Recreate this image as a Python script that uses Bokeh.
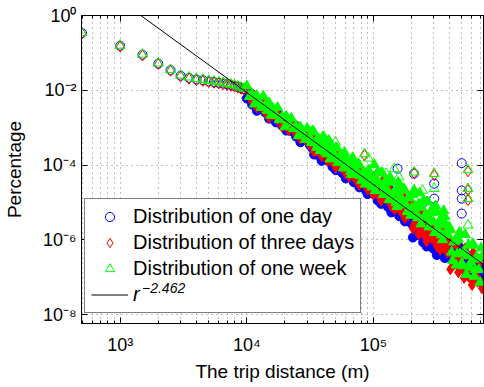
import numpy as np
from bokeh.plotting import figure
from bokeh.models import (ColumnDataSource, CustomJSTickFormatter, FixedTicker,
                          Legend, LegendItem, LogAxis, Range1d)
from bokeh.embed import file_html
from bokeh.resources import INLINE

FONT = "Liberation Sans"

# ---------------------------------------------------------------------------
# Trip-length distributions, stored as log10 of the share of trips.
# Short trips: 500 m bins.
short_dist = [500, 1000, 1500, 2000, 2500, 3000, 3500, 4000, 4500, 5000,
              5500, 6000, 6500, 7000, 7500, 8000, 8500, 9000, 9500]
day_short = [-0.47, -0.81, -1.05, -1.29, -1.46, -1.61, -1.67, -1.71, -1.73, -1.76,
             -1.78, -1.80, -1.82, -1.84, -1.86, -1.88, -1.91, -1.94, -1.97]
three_short = [-0.48, -0.83, -1.07, -1.30, -1.48, -1.63, -1.69, -1.73, -1.75, -1.78,
               -1.80, -1.82, -1.84, -1.86, -1.88, -1.90, -1.93, -1.96, -1.99]
week_short = [-0.46, -0.80, -1.04, -1.275, -1.45, -1.60, -1.65, -1.69, -1.71, -1.74,
              -1.76, -1.78, -1.80, -1.82, -1.84, -1.86, -1.89, -1.92, -1.95]

# Longer trips (m)
long_dist = [10000, 10500, 11000, 11500, 12000, 12500, 13000, 13500, 14000, 14500,
             15000, 15500, 16000, 17000, 17500, 18000, 19000, 20000, 20500, 21500,
             22500, 23500, 24500, 25500, 26500, 27500, 29000, 30000, 31500, 32500,
             34000, 35500, 37000, 38500, 40000, 42000, 43500, 45500, 47500, 49500,
             51500, 53500, 56000, 58000, 60500, 63000, 66000, 68500, 71500, 74500,
             77500, 81000, 84500, 88000, 91500, 95500, 99500, 103500, 108000, 112500,
             117500, 122500, 127500, 133000, 138500, 144500, 150500, 157000, 163500, 170500,
             177500, 185000, 193000, 201000, 209500, 218500, 227500, 237000, 247000, 257500,
             268500, 280000, 291500, 304000, 316500, 330000, 344000, 358500, 373500, 389000,
             405500, 422500, 440500, 459000, 478500, 498500, 519500, 541500, 564500, 588000,
             613000, 638500, 665500, 693500, 722500]
day_long = [-2.22, -2.05, -2.38, -2.30, -2.55, -2.29, -2.48, -2.34, -2.60, -2.53,
            -2.76, -2.54, -2.68, -2.86, -2.58, -2.79, -2.95, -2.78, -3.08, -2.93,
            -3.09, -2.91, -3.24, -3.15, -3.39, -3.13, -3.34, -3.20, -3.47, -3.39,
            -3.72, -3.44, -3.62, -3.80, -3.44, -3.74, -3.88, -3.65, -4.05, -3.83,
            -4.02, -3.77, -4.18, -4.05, -4.36, -4.02, -4.26, -4.07, -4.39, -4.30,
            -4.60, -4.32, -4.50, -4.69, -4.33, -4.61, -4.77,
            -4.47, -4.95, -4.67, -4.90, -4.59, -5.06, -4.91, -5.27, -4.86, -5.13,
            -4.89, -5.28, -5.14, -5.51, -5.15, -5.37, -5.58,
            -5.26, -5.66, -5.88, -5.51, -6.07, -5.73, -5.99, -5.60, -6.18, -5.98,
            -6.41, -5.89, -6.21, -5.91, -6.37, -6.21,
            -6.50, -6.19, -6.39, -6.58, -6.20, -6.49, -6.67, -6.41, -6.82, -6.60,
            -6.79, -6.54, -6.95, -6.82, -7.14]
three_long = [-1.94, -2.17, -2.31, -2.14, -2.46, -2.31, -2.45, -2.28, -2.59, -2.50,
              -2.73, -2.48, -2.66, -2.55, -2.79, -2.71, -2.97, -2.77, -2.91, -3.07,
              -2.81, -3.03, -3.17, -2.99, -3.30, -3.15, -3.31, -3.14, -3.46, -3.36,
              -3.65, -3.35, -3.56, -3.38, -3.69, -3.62, -3.89, -3.63, -3.81, -3.98,
              -3.65, -3.91, -4.07, -3.85, -4.23, -4.02, -4.21, -3.98, -4.35, -4.25,
              -4.53, -4.23, -4.44, -4.27, -4.58, -4.49, -4.78,
              -4.43, -4.65, -4.85, -4.44, -4.75, -4.92, -4.65, -5.10, -4.85, -5.05,
              -4.78, -5.22, -5.07, -5.42, -5.03, -5.29, -5.06,
              -5.59, -5.43, -5.85, -5.42, -5.66, -5.91, -5.38, -5.76, -5.98, -5.61,
              -6.17, -5.84, -6.08, -5.72, -6.27, -6.09,
              -6.79, -6.10, -6.56, -6.11, -6.73, -6.44, -7.02, -6.41, -6.78, -7.07,
              -6.34, -6.88, -7.12, -6.59, -7.30]
week_long = [-1.88, -2.17, -2.10, -2.37, -2.14, -2.30, -2.46, -2.16, -2.40, -2.54,
             -2.33, -2.67, -2.48, -2.67, -2.46, -2.79, -2.71, -2.98, -2.69, -2.90,
             -2.75, -3.03, -2.96, -3.22, -2.98, -3.14, -3.32, -3.02, -3.27, -3.40,
             -3.12, -3.53, -3.31, -3.49, -3.24, -3.66, -3.53, -3.84, -3.51, -3.74,
             -3.54, -3.87, -3.77, -4.08, -3.79, -3.97, -4.17, -3.80, -4.08, -4.25,
             -4.00, -4.41, -4.19, -4.38, -4.13, -4.53, -4.42,
             -4.69, -4.18, -4.50, -4.21, -4.65, -4.46, -4.93, -4.46, -4.74, -5.00,
             -4.46, -4.84, -5.02, -4.68, -5.25, -4.88, -5.15,
             -4.67, -5.29, -5.04, -5.58, -4.96, -5.33, -4.98, -5.49, -5.27, -5.81,
             -5.26, -5.56, -5.87, -5.22, -5.60, -5.88,
             -5.73, -6.56, -6.03, -6.38, -5.80, -6.63, -6.31, -6.93, -6.13, -6.60,
             -6.11, -6.80, -6.52, -7.14, -6.45]

# In-between bins beyond 33 km, where the cloud widens
mid_dist = [33000, 35000, 36000, 38000, 39000, 41000, 43000, 44500, 46500, 48500,
            50500, 52500, 55000, 57000, 59000, 62000, 64500, 67000, 70000, 73000,
            76000, 79000, 83000, 86000, 90000, 93500, 97500, 101500, 105500, 110000,
            115000, 120000, 125000, 130000, 135500, 141500, 147500, 153500, 160000, 167000,
            174000, 181000, 189000, 197000, 205000, 214000, 223000, 232000, 242000, 252000,
            263000, 274000, 285500, 297500, 310000, 323000, 337000, 351000, 366000, 381000,
            397000, 414000, 431500, 450000, 468500, 488500, 509000, 530500, 553000, 576000,
            600500, 626000, 652000, 679500, 708000]
day_mid = [-3.56, -3.31, -3.72, -3.59, -3.89, -3.56, -3.79, -3.61, -3.93, -3.84,
           -4.14, -3.85, -4.04, -4.22, -3.86, -4.15, -4.30, -4.07, -4.46, -4.25,
           -4.44, -4.19, -4.60, -4.48, -4.78, -4.44, -4.68, -4.42, -4.81, -4.68,
           -5.04, -4.69, -4.90, -5.12, -4.67, -5.00, -5.20, -4.89, -5.37, -5.09,
           -5.32, -5.01, -5.48, -5.33, -5.94, -5.43, -5.75, -5.44, -5.91, -5.74,
           -6.18, -5.73, -5.99, -6.24, -5.68, -6.08, -6.30, -5.93, -6.49, -6.15,
           -6.33, -6.07, -6.49, -6.36, -6.68, -6.32, -6.56, -6.36, -6.70, -6.60,
           -6.92, -6.61, -6.81, -7.00, -6.62]
three_mid = [-3.19, -3.45, -3.61, -3.39, -3.76, -3.56, -3.74, -3.52, -3.89, -3.79,
             -4.07, -3.76, -3.98, -3.80, -4.11, -4.03, -4.31, -4.05, -4.22, -4.40,
             -4.07, -4.33, -4.49, -4.28, -4.65, -4.44, -4.63, -4.31, -4.75, -4.61,
             -4.95, -4.57, -4.82, -4.60, -4.97, -4.85, -5.19, -4.85, -5.07, -5.27,
             -4.86, -5.17, -5.34, -5.07, -5.70, -5.38, -5.62, -5.25, -5.81, -5.62,
             -6.04, -5.54, -5.86, -5.56, -6.01, -5.85, -6.27, -5.84, -6.08, -6.33,
             -5.98, -6.41, -6.66, -6.13, -6.87, -6.48, -6.75, -6.23, -6.96, -6.74,
             -7.21, -6.52, -6.98, -6.53, -7.15]
week_mid = [-3.08, -3.41, -3.31, -3.62, -3.32, -3.51, -3.70, -3.34, -3.62, -3.79,
            -3.54, -3.94, -3.73, -3.91, -3.66, -4.07, -3.95, -4.26, -3.92, -4.16,
            -3.96, -4.29, -4.19, -4.51, -4.21, -4.39, -4.59, -3.99, -4.37, -4.56,
            -4.21, -4.79, -4.41, -4.69, -4.33, -4.90, -4.70, -5.11, -4.60, -4.92,
            -4.63, -5.07, -4.88, -5.35, -4.79, -5.10, -5.41, -4.75, -5.14, -5.41,
            -4.99, -5.66, -5.22, -5.52, -5.09, -5.71, -5.46, -6.00, -5.38, -5.75,
            -5.65, -6.33, -6.06, -6.68, -5.99, -6.35, -6.70, -5.86, -6.43, -6.74,
            -6.15, -6.98, -6.45, -6.80, -6.22]

# Isolated peaks (popular long-distance destinations)
day_peak_dist = [155000, 209000, 251000, 302000, 302000, 498000, 498000, 498000, 498000, 545000]
day_peak = [-4.10, -4.23, -4.99, -4.50, -4.90, -3.95, -4.68, -4.90, -5.30, -6.95]
three_peak_dist = [85100, 210000, 302000, 558000, 558000, 558000]
three_peak = [-3.74, -4.22, -4.27, -4.17, -4.67, -4.94]
week_peak_dist = [40700, 50100, 85100, 91200, 126000, 146000, 158500, 210000, 244000,
                  302000, 302000, 558000, 558000, 558000, 558000]
week_peak = [-3.25, -3.39, -3.70, -3.82, -4.23, -4.10, -4.32, -4.19, -4.68,
             -4.23, -4.63, -4.13, -4.63, -4.90, -5.61]

# Fitted power law P(r) = c * r^-2.462
fit_exponent = -2.462
fit_scale = 6.13e7
fit_dist = [1000, 1000000]

# Axis ticks
x_major = [1e3, 1e4, 1e5]
x_minor = [m * 10 ** k for k in (2, 3, 4, 5) for m in range(2, 10)]
y_major = [1e-8, 1e-6, 1e-4, 1e-2, 1e0]


def source(dists, logs):
    x = np.concatenate([np.asarray(d, dtype=float) for d in dists])
    y = 10.0 ** np.concatenate([np.asarray(v, dtype=float) for v in logs])
    return ColumnDataSource(dict(x=x, y=y))


# sparse points (short trips and peaks) and the dense cloud of long trips
day_sparse = source([short_dist, day_peak_dist], [day_short, day_peak])
three_sparse = source([short_dist, three_peak_dist], [three_short, three_peak])
week_sparse = source([short_dist, week_peak_dist], [week_short, week_peak])
day_dense = source([long_dist, mid_dist], [day_long, day_mid])
three_dense = source([long_dist, mid_dist], [three_long, three_mid])
week_dense = source([long_dist, mid_dist], [week_long, week_mid])
fit_x = np.asarray(fit_dist, dtype=float)
src_fit = ColumnDataSource(dict(x=fit_x, y=fit_scale * fit_x ** fit_exponent))

# ---------------------------------------------------------------------------
p = figure(width=484, height=387, x_axis_type="log", y_axis_type="log",
           x_range=Range1d(495, 7.4e5), y_range=Range1d(5.75e-9, 1.0),
           output_backend="svg", toolbar_location=None,
           min_border_left=81, min_border_right=1, min_border_top=15,
           min_border_bottom=64)
p.outline_line_color = "black"
p.outline_line_width = 1

xticker = FixedTicker(ticks=x_major, minor_ticks=x_minor)
yticker = FixedTicker(ticks=y_major, minor_ticks=[])

power_fmt = CustomJSTickFormatter(code="""
const sup = {'0':'\u2070','1':'\u00b9','2':'\u00b2','3':'\u00b3','4':'\u2074',
             '5':'\u2075','6':'\u2076','7':'\u2077','8':'\u2078','9':'\u2079','-':'\u207b'};
const e = Math.round(Math.log10(tick));
return '10' + String(e).split('').map(c => sup[c]).join('');
""")
blank_fmt = CustomJSTickFormatter(code="return '';")

for ax in (p.xaxis[0], p.yaxis[0]):
    ax.formatter = power_fmt
    ax.major_label_text_font = FONT
    ax.major_label_text_font_size = "18px"
    ax.major_label_text_color = "black"
    ax.axis_label_text_font = FONT
    ax.axis_label_text_font_size = "19px"
    ax.axis_label_text_font_style = "normal"
    ax.axis_label_text_color = "black"
    ax.axis_line_color = "black"
    ax.major_tick_line_color = "black"
    ax.minor_tick_line_color = "black"
    ax.major_tick_in = 6
    ax.major_tick_out = 0
    ax.minor_tick_in = 3
    ax.minor_tick_out = 0

p.xaxis[0].ticker = xticker
p.yaxis[0].ticker = yticker
p.xaxis[0].axis_label = "The trip distance (m)"
p.yaxis[0].axis_label = "Percentage"
p.xaxis[0].major_label_standoff = 11
p.xaxis[0].axis_label_standoff = 3
p.yaxis[0].major_label_standoff = 5
p.yaxis[0].axis_label_standoff = 15

# mirrored tick marks on the top and right edges
top_axis = LogAxis(ticker=xticker, formatter=blank_fmt, major_label_text_font_size="1px",
                   major_label_standoff=0, major_tick_in=6, major_tick_out=0,
                   minor_tick_in=3, minor_tick_out=0, axis_line_color="black")
right_axis = LogAxis(ticker=yticker, formatter=blank_fmt, major_label_text_font_size="1px",
                     major_label_standoff=0, major_tick_in=6, major_tick_out=0,
                     minor_tick_in=3, minor_tick_out=0, axis_line_color="black")
p.add_layout(top_axis, "above")
p.add_layout(right_axis, "right")

p.xgrid.ticker = xticker
p.ygrid.ticker = yticker
for g in (p.xgrid[0], p.ygrid[0]):
    g.grid_line_color = "black"
    g.grid_line_alpha = 0.5
    g.grid_line_dash = "1 4"
    g.grid_line_width = 1
p.xgrid[0].minor_grid_line_color = "black"
p.xgrid[0].minor_grid_line_alpha = 0.5
p.xgrid[0].minor_grid_line_dash = "1 4"

BLUE, RED, GREEN = "#0000ff", "#ff0000", "#00ff00"
styles = [("circle", 9, BLUE, day_sparse, day_dense),
          ("diamond", 11, RED, three_sparse, three_dense),
          ("triangle", 10, GREEN, week_sparse, week_dense)]
legend_renderers = []
for marker, size, color, sparse, dense in styles:
    p.scatter("x", "y", source=dense, marker=marker, size=size,
              fill_color=color, fill_alpha=1.0, line_color=color, line_width=1)
    r = p.scatter("x", "y", source=sparse, marker=marker, size=size,
                  fill_color=None, line_color=color, line_width=1)
    legend_renderers.append(r)
r_fit = p.line("x", "y", source=src_fit, line_color="black", line_width=1)

legend = Legend(items=[
    LegendItem(label="Distribution of one day", renderers=[legend_renderers[0]]),
    LegendItem(label="Distribution of three days", renderers=[legend_renderers[1]]),
    LegendItem(label="Distribution of one week", renderers=[legend_renderers[2]]),
    LegendItem(label="\u00a0", renderers=[r_fit]),
], location=(3, 10))
legend.label_text_font = FONT
legend.label_text_font_size = "20px"
legend.label_text_color = "black"
legend.glyph_width = 37
legend.glyph_height = 23
legend.label_height = 23
legend.label_standoff = 5
legend.spacing = 3
legend.padding = 6
legend.margin = 0
legend.border_line_color = "black"
legend.border_line_width = 1
legend.background_fill_color = "white"
legend.background_fill_alpha = 1.0
p.add_layout(legend)


def italic_caption(text, size, height, location):
    """Transparent one-line legend used to write the fit's italic label."""
    cap = Legend(items=[LegendItem(label=text, renderers=[r_fit])], location=location,
                 glyph_width=0, glyph_height=height, label_height=height,
                 label_standoff=0, padding=0, margin=0, spacing=0,
                 border_line_alpha=0, background_fill_alpha=0,
                 label_text_font=FONT, label_text_font_size=size,
                 label_text_font_style="italic", label_text_color="black")
    p.add_layout(cap)


italic_caption("r", "20px", 23, (52, 17))
italic_caption("\u22122.462", "14px", 16, (61, 27))

open("out.html", "w").write(file_html(p, INLINE))
